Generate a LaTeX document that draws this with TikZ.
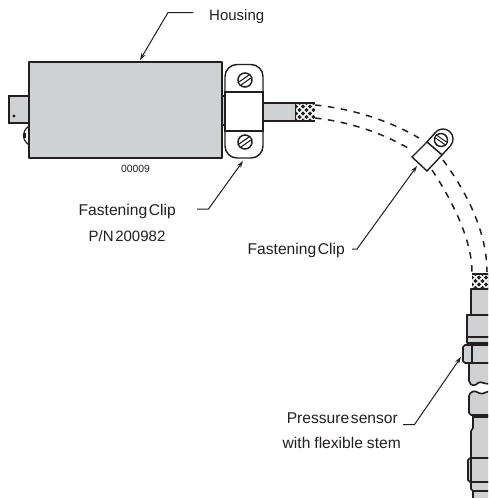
\documentclass[tikz,border=0pt]{standalone}
\usepackage{fontspec}
\setmainfont[WordSpace=0.4]{Liberation Sans}
\definecolor{bodygray}{HTML}{CFD1D2}
\definecolor{ink}{HTML}{231F20}
\usetikzlibrary{arrows.meta}
\tikzset{
  part/.style={draw=ink,line width=1.6pt,fill=bodygray,line join=round},
  thin part/.style={draw=ink,line width=1.1pt},
  white part/.style={draw=ink,line width=1.4pt,fill=white},
  leader arrow/.style={draw=ink,line width=1pt,-{Stealth[length=7pt,width=4.5pt]}},
  label/.style={font=\fontsize{15.6}{17}\selectfont,text=ink,inner sep=0pt},
  small label/.style={font=\fontsize{15}{17}\selectfont,text=ink,inner sep=0pt},
  flex/.style={draw=ink,line width=1.5pt,dash pattern=on 6.5pt off 6.5pt},
  screw/.style={draw=ink,line width=1.5pt,fill=white},
}
\newcommand{\braid}[4]{%
  \begin{scope}
    \clip (#1,#2) rectangle (#3,#4);
    \fill[ink] (#1,#2) rectangle (#3,#4);
    \foreach \k in {-63,-56,...,63}{
      \draw[white,line width=1.5pt] (#1+\k,#2) -- ++(30,30);
      \draw[white,line width=1.5pt] (#1+\k,#2) -- ++(-30,30);
    }
  \end{scope}
  \draw[ink,line width=1.4pt] (#1,#2) -- (#3,#2) (#1,#4) -- (#3,#4);
}
\newcommand{\slotscrew}[4]{%
  \draw[screw] (#1,#2) circle (#3pt);
  \begin{scope}[shift={(#1,#2)},rotate=#4]
    \draw[ink,line width=1.1pt,fill=white] (-#3pt,-1.8pt) rectangle (#3pt,1.8pt);
  \end{scope}
}
\begin{document}
\begin{tikzpicture}[x=1pt,y=-1pt]
\useasboundingbox (0,0) rectangle (488,498);
\fill[white] (0,0) rectangle (488,498);
% flexible stem, dashed
\coordinate (s1) at (315,105);
\coordinate (s2) at (315,118);
\coordinate (e1) at (487,272);
\coordinate (e2) at (472,272);
\draw[flex] (s1) .. controls (355,109) and (392,122) .. (419,138);
\draw[flex] (s2) .. controls (350,122) and (382,133) .. (408,148);
\draw[flex] (443,160) .. controls (465,190) and (487,230) .. (e1);
\draw[flex] (432,170) .. controls (452,200) and (472,240) .. (e2);
% left connector
\draw[ink,line width=1.2pt,fill=bodygray] (9,96) rectangle (29,123);
\fill[ink] (12,95) rectangle (16,97);
\fill[ink] (14,116) circle (1.6pt);
\draw[ink,line width=1.2pt] (29,126) .. controls (25,129) and (23.5,132) .. (23.5,135) .. controls (23.5,139) and (25,142) .. (29,145);
\fill[ink] (23,132.5) rectangle (26,138);
% housing
\node[part,minimum width=193pt,minimum height=96pt,inner sep=0pt,outer sep=0pt] (housing) at (125.5,110) {};
% clip
\draw[part] (222,96) rectangle (225,125);
\draw[white part,rounded corners=12pt] (225,64.5) rectangle (263,158);
\draw[white part] (225,92) rectangle (263,131);
\slotscrew{245}{80}{7}{35}
\slotscrew{245}{142}{7}{35}
% cable stub
\draw[part] (263,103) rectangle (296,121);
\braid{296}{103}{315}{121}
\node[label,font=\fontsize{10.4}{12}\selectfont,anchor=center] (code) at (135.5,168.5) {00009};
% small clip
\draw[white part] (427,142) -- (435.4,132.4) .. controls (439,128.2) and (445.4,127.8) .. (449.6,131.4) .. controls (453.8,135) and (454.2,141.4) .. (450.6,145.6) -- (442,155) -- cycle;
\draw[white part] (412,157) -- (427,142) -- (442,155) -- (427,171) -- cycle;
\begin{scope}[shift={(441,140)},rotate=-35]
  \draw[screw] (0,0) circle (6.5pt);
  \draw[ink,line width=1pt,fill=white] (-6.5,-1.5) rectangle (6.5,1.5);
\end{scope}
% sensor
\begin{scope}
\clip (440,260) rectangle (488,498);
\braid{472}{274}{489}{289}
\draw[part] (471,289) rectangle (495,315);
\draw[part] (467,315) rectangle (495,337);
\draw[part] (467,337) rectangle (495,343);
\draw[part] (469,363) -- (469,381) .. controls (471,387) and (475,386) .. (478,383) .. controls (481,380) and (484,386) .. (495,383) -- (495,363) -- cycle;
\draw[part,fill=bodygray] (495,345) -- (465,345) -- (463,347) -- (463,361) -- (465,363) -- (495,363) -- cycle;
\draw[thin part] (472,345) -- (472,363);
\draw[part] (469,413) -- (469,396) .. controls (470,391) and (475,390) .. (479,393) .. controls (483,396) and (488,389) .. (495,391) -- (495,415) -- (471,415) -- cycle;
\draw[part] (473,416) -- (473,428) -- (471,431) -- (471,458) -- (495,458) -- (495,416) -- cycle;
\draw[thin part] (473,417) -- (495,417);
\draw[part] (471,482) -- (471,489) -- (473,491) -- (473,500) -- (495,500) -- (495,482) -- cycle;
\draw[thin part] (473,491) -- (495,491);
\draw[part] (470,458) -- (495,458) -- (495,482) -- (470,482) -- (468,480) -- (468,460) -- cycle;
\draw[thin part] (471,458) -- (471,482);
\end{scope}
% labels
\node[small label,anchor=base west] (lhousing) at (209,20) {Housing};
\node[label,anchor=base east] (lclip1) at (176,215) {Fastening Clip};
\node[small label,anchor=base] (lpn) at (127,241) {P/N 200982};
\node[label,anchor=base east] (lclip2) at (345,254) {Fastening Clip};
\node[label,anchor=base east] (lsensor) at (398,423) {Pressure sensor};
\node[label,anchor=base east] (lstem) at (401,448) {with\hspace{4pt}flexible\hspace{4pt}stem};
% leaders
\coordinate (a1) at (193,12.5);
\coordinate (a2) at (168,12.5);
\coordinate (a3) at (140,60);
\draw[leader arrow] (a1) -- (a2) -- (a3);
\coordinate (b1) at (197,209);
\coordinate (b2) at (208.5,209);
\coordinate (b3) at (243,161);
\draw[leader arrow] (b1) -- (b2) -- (b3);
\coordinate (c1) at (352,249);
\coordinate (c2) at (357,249);
\coordinate (c3) at (417,166);
\draw[leader arrow] (c1) -- (c2) -- (c3);
\coordinate (d1) at (403,424.5);
\coordinate (d2) at (414.5,424.5);
\coordinate (d3) at (461,357);
\draw[leader arrow] (d1) -- (d2) -- (d3);
\end{tikzpicture}
\end{document}
